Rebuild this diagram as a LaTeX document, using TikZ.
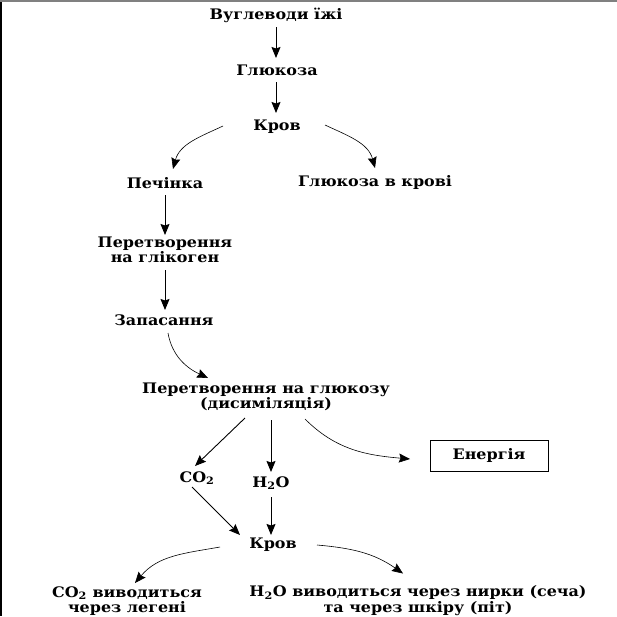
\documentclass[tikz,border=0pt]{standalone}
\usepackage{fontspec}
\setmainfont[FakeStretch=1.1]{DejaVu Serif}
\usetikzlibrary{arrows.meta,calc}
\begin{document}
\begin{tikzpicture}[x=1pt,y=-1pt,
  lbl/.style={font=\bfseries\fontsize{14.5}{15.5}\selectfont, inner sep=0pt, outer sep=0pt, align=center},
  arr/.style={line width=0.9pt, -{Stealth[length=11pt,width=9pt,inset=1.5pt]}},
  carr/.style={line width=0.6pt, -{Stealth[length=11pt,width=9pt,inset=1.5pt]}}]
\useasboundingbox (0,0) rectangle (617,616);
\fill[white] (0,0) rectangle (617,616);
\draw[line width=2pt] (1,0) -- (1,616);
\draw[gray, line width=1.5pt] (0,0.75) -- (617,0.75);

\node[lbl] (v1) at (276,15) {Вуглеводи їжі};
\node[lbl] (g) at (277,70) {Глюкоза};
\node[lbl] (k1) at (277,127) {Кров};
\node[lbl] (p) at (165,183) {Печінка};
\node[lbl] (gk) at (375,182) {Глюкоза в крові};
\node[lbl] (pg) at (165,250) {Перетворення\\на глікоген};
\node[lbl] (z) at (164,320) {Запасання};
\node[lbl] (d) at (266,397) {Перетворення на глюкозу\\(дисиміляція)};
\node[lbl] (co) at (197,478) {CO\textsubscript{2}};
\node[lbl] (h) at (271,483) {H\textsubscript{2}O};
\node[lbl, draw, line width=0.6pt, minimum width=118pt, minimum height=31pt] (e) at (489,455.5) {Енергія};
\node[lbl] (k2) at (273,545) {Кров};
\node[lbl] (lo) at (127,601) {CO\textsubscript{2} виводиться\\через легені};
\node[lbl] (ro) at (418,600.5) {H\textsubscript{2}O виводиться через нирки (сеча)\\та через шкіру (піт)};

\draw[arr] ($(v1)+(0,12)$) -- ($(v1)+(0,43)$);
\draw[arr] ($(g)+(-1,12)$) -- ($(k1)+(-1,-14)$);
\draw[carr] ($(k1)+(-54,-1)$) to[out=205,in=75] ($(p)+(8,-14)$);
\draw[carr] ($(k1)+(48,-2)$) to[out=-25,in=105] ($(gk)+(0,-14)$);
\draw[arr] ($(p)+(0,12)$) -- ($(pg)+(0,-15)$);
\draw[arr] ($(pg)+(0,20)$) -- ($(pg)+(0,60)$);
\draw[carr] ($(z)+(4,13)$) to[out=-80,in=155] ($(d)+(-58,-19)$);
\draw[arr] ($(d)+(-21,21)$) -- ($(co)+(-2,-12)$);
\draw[arr] ($(d)+(5,23)$) -- ($(h)+(0,-11)$);
\draw[carr] ($(d)+(39,22)$) to[out=-45,in=175] ($(e.west)+(-20,3.5)$);
\draw[arr] ($(co)+(-5,9)$) -- ($(k2)+(-33,-10)$);
\draw[arr] ($(h)+(0,14)$) -- ($(k2)+(-2,-10)$);
\draw[carr] ($(k2)+(-53,2)$) to[out=190,in=50] ($(lo)+(8,-18)$);
\draw[carr] ($(k2)+(44,0)$) to[out=-5,in=145] ($(ro)+(-15,-27)$);
\end{tikzpicture}
\end{document}
